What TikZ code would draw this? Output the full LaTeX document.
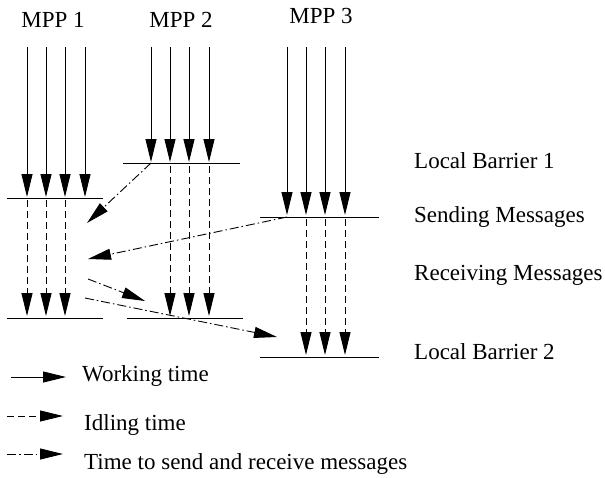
\documentclass[tikz,border=0pt]{standalone}
\usepackage{fontspec}
\setmainfont{Liberation Serif}
\usetikzlibrary{arrows.meta}
\tikzset{
  flow/.style={line width=0.9pt, -{Triangle[length=23pt,width=11pt]}},
  work/.style={flow},
  idle/.style={flow, dash pattern=on 7pt off 4pt},
  msg/.style={flow, dash pattern=on 9pt off 3pt on 1.5pt off 3pt},
  barrier/.style={line width=0.9pt},
  lbl/.style={anchor=base west, inner sep=0pt, font=\fontsize{23}{27}\selectfont},
  head/.style={anchor=base, inner sep=0pt, font=\fontsize{23}{27}\selectfont},
}
\begin{document}
\begin{tikzpicture}[x=1pt,y=-1pt]
\useasboundingbox (0,0) rectangle (605,477);

% processor headings
\node[head] (h1) at (53,27) {MPP 1};
\node[head] (h2) at (181,27) {MPP 2};
\node[head] (h3) at (321,23) {MPP 3};

% barrier lines
\coordinate (b1s) at (7,198);   \coordinate (b1e) at (103,198);
\coordinate (b2s) at (123,163); \coordinate (b2e) at (240,163);
\coordinate (b3s) at (260,217); \coordinate (b3e) at (379,217);
\coordinate (c1s) at (7,318);   \coordinate (c1e) at (103,318);
\coordinate (c2s) at (127,318); \coordinate (c2e) at (243,318);
\coordinate (c3s) at (260,357); \coordinate (c3e) at (379,357);
\draw[barrier] (b1s) -- (b1e);
\draw[barrier] (b2s) -- (b2e);
\draw[barrier] (b3s) -- (b3e);
\draw[barrier] (c1s) -- (c1e);
\draw[barrier] (c2s) -- (c2e);
\draw[barrier] (c3s) -- (c3e);

% working phases
\foreach \x [count=\i] in {27,46,65,85} {
  \coordinate (w1t\i) at (\x,47); \coordinate (w1b\i) at (\x,197);
  \draw[work] (w1t\i) -- (w1b\i);
}
\foreach \x [count=\i] in {151,170,189,209} {
  \coordinate (w2t\i) at (\x,47); \coordinate (w2b\i) at (\x,162);
  \draw[work] (w2t\i) -- (w2b\i);
}
\foreach \x [count=\i] in {287,306,325,345} {
  \coordinate (w3t\i) at (\x,47); \coordinate (w3b\i) at (\x,215);
  \draw[work] (w3t\i) -- (w3b\i);
}

% idling phases
\foreach \x [count=\i] in {27,46,65} {
  \coordinate (d1t\i) at (\x,200); \coordinate (d1b\i) at (\x,316);
  \draw[idle] (d1t\i) -- (d1b\i);
}
\foreach \x [count=\i] in {170,189,209} {
  \coordinate (d2t\i) at (\x,166); \coordinate (d2b\i) at (\x,316);
  \draw[idle] (d2t\i) -- (d2b\i);
}
\foreach \x [count=\i] in {306,325,345} {
  \coordinate (d3t\i) at (\x,219); \coordinate (d3b\i) at (\x,355);
  \draw[idle] (d3t\i) -- (d3b\i);
}

% messages
\coordinate (m1a) at (151,163); \coordinate (m1b) at (87,223);
\coordinate (m2a) at (287,217); \coordinate (m2b) at (88,259);
\coordinate (m3a) at (88,279);  \coordinate (m3b) at (145,301);
\coordinate (m4a) at (85,298);  \coordinate (m4b) at (277,337);
\draw[msg] (m1a) -- (m1b);
\draw[msg] (m2a) -- (m2b);
\draw[msg] (m3a) -- (m3b);
\draw[msg] (m4a) -- (m4b);

% phase labels
\node[lbl] (l1) at (414,168) {Local Barrier 1};
\node[lbl] (l2) at (414,222) {Sending Messages};
\node[lbl] (l3) at (414,280) {Receiving Messages};
\node[lbl] (l4) at (414,359) {Local Barrier 2};

% legend
\coordinate (k1a) at (11,377); \coordinate (k1b) at (66,377);
\coordinate (k2a) at (7,416);  \coordinate (k2b) at (63,416);
\coordinate (k3a) at (7,454);  \coordinate (k3b) at (63,454);
\draw[work] (k1a) -- (k1b);
\draw[idle] (k2a) -- (k2b);
\draw[msg] (k3a) -- (k3b);
\node[lbl] (t1) at (82,381) {Working time};
\node[lbl] (t2) at (84,430) {Idling time};
\node[lbl] (t3) at (84,469) {Time to send and receive messages};
\end{tikzpicture}
\end{document}
